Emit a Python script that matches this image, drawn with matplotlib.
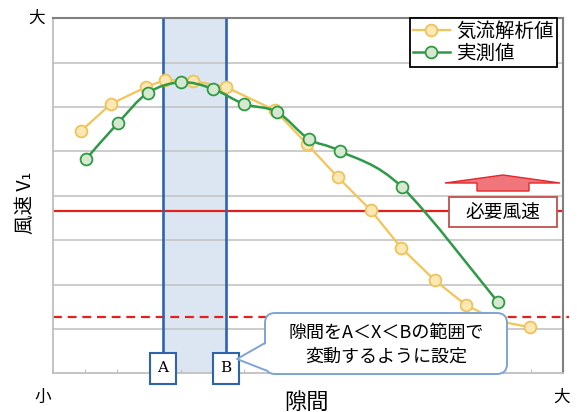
import matplotlib
matplotlib.use("Agg")
import matplotlib.pyplot as plt
import matplotlib.transforms as mtransforms
from matplotlib.patches import FancyBboxPatch, Polygon, Rectangle
from matplotlib.path import Path
from matplotlib.patches import PathPatch
from matplotlib.lines import Line2D
import numpy as np

plt.rcParams['font.family'] = ['Noto Sans CJK JP', 'DejaVu Sans']

# ---- data ----
x_sim = [0.87, 1.81, 2.91, 3.50, 4.38, 5.42, 6.95, 7.96, 8.93, 9.96, 10.93, 11.97, 12.95, 13.95, 14.95]
y_sim = [5.46, 6.07, 6.45, 6.61, 6.59, 6.45, 5.93, 5.17, 4.42, 3.68, 2.82, 2.10, 1.54, 1.18, 1.04]
x_meas = [1.03, 2.03, 2.97, 4.01, 5.01, 5.98, 7.02, 8.02, 8.99, 10.94, 13.95]
y_meas = [4.83, 5.64, 6.32, 6.56, 6.41, 6.07, 5.89, 5.28, 5.01, 4.20, 1.61]
series_labels = ['気流解析値', '実測値']
required_speed = 3.66
lower_level = 1.26
gap_A = 3.43
gap_B = 5.41
x_max = 16
y_max = 8

W, H = 577, 412
fig = plt.figure(figsize=(W / 100, H / 100), dpi=100)
ax = fig.add_axes([53.3 / W, 1 - 373.3 / H, (563 - 53.3) / W, (373.3 - 18.3) / H])
ax.set_xlim(0, x_max)
ax.set_ylim(0, y_max)

# pixel transform (origin top-left) for annotation shapes
px = mtransforms.Affine2D().scale(1, -1).translate(0, H).scale(1 / W, 1 / H) + fig.transFigure

# grid
for g in range(1, y_max):
    ax.axhline(g, color='#c4c4c4', lw=1.2, zorder=1)
ax.set_xticks(range(0, x_max + 1))
ax.set_yticks([])
ax.tick_params(axis='x', direction='in', length=3, color='#bfbfbf', labelbottom=False)
for s in ['left', 'bottom']:
    ax.spines[s].set_color('#bfbfbf')
    ax.spines[s].set_linewidth(1.3)
for s in ['top', 'right']:
    ax.spines[s].set_color('#808080')
    ax.spines[s].set_linewidth(1.5)

# shaded gap range
ax.axvspan(gap_A, gap_B, color='#dce6f2', zorder=0.5, lw=0)

# red lines
ax.axhline(required_speed, color='#e3211c', lw=1.6, zorder=2)
ax.plot([0, x_max * 1.012], [lower_level, lower_level], color='#e3211c', lw=1.6,
        ls=(0, (4, 2.6)), zorder=2, clip_on=False)

# blue vertical lines + A/B boxes
bw, bh = 26 / 31.875, 31 / 44.375
for xv, lab in [(gap_A, 'A'), (gap_B, 'B')]:
    ax.plot([xv, xv], [0.46, y_max], color='#2e64ad', lw=1.9, zorder=3, solid_capstyle='butt')
    ax.add_patch(Rectangle((xv - bw / 2, -0.24), bw, bh, facecolor='white', edgecolor='#2e64ad',
                           lw=1.5, zorder=6, clip_on=False))
    ax.text(xv, -0.24 + bh / 2, lab, ha='center', va='center', fontsize=11,
            family=['DejaVu Serif'], zorder=7, clip_on=False)

# series
ycol, ycol_face = '#f4c457', '#fbe8b4'
gcol, gcol_face = '#2e9a46', '#d6e9d0'
ax.plot(x_sim, y_sim, color=ycol, lw=1.6, zorder=4, marker='o', ms=8.5,
        mfc=ycol_face, mec='#f0c25a', mew=1.3)

# smooth line for measured values (drawing style only)
pts = np.column_stack([x_meas, y_meas])
verts = [tuple(pts[0])]
codes = [Path.MOVETO]
n = len(pts)
for i in range(n - 1):
    p0 = pts[i - 1] if i > 0 else pts[i]
    p1 = pts[i]
    p2 = pts[i + 1]
    p3 = pts[i + 2] if i + 2 < n else pts[i + 1]
    c1 = p1 + (p2 - p0) / 6
    c2 = p2 - (p3 - p1) / 6
    verts += [tuple(c1), tuple(c2), tuple(p2)]
    codes += [Path.CURVE4] * 3
ax.add_patch(PathPatch(Path(verts, codes), facecolor='none', edgecolor=gcol, lw=1.8, zorder=4.5))
ax.plot(x_meas, y_meas, ls='none', marker='o', ms=8.5, mfc=gcol_face, mec=gcol, mew=1.3, zorder=4.6)

# legend
handles = [Line2D([], [], color=ycol, lw=1.6, marker='o', ms=8.5, mfc=ycol_face, mec='#f0c25a', mew=1.3),
           Line2D([], [], color=gcol, lw=1.8, marker='o', ms=8.5, mfc=gcol_face, mec=gcol, mew=1.3)]
leg = ax.legend(handles, series_labels, loc='upper right', bbox_to_anchor=(557 / W, 1 - 18 / H),
                bbox_transform=fig.transFigure, fontsize=14, frameon=True, fancybox=False,
                edgecolor='black', framealpha=1, borderpad=0.15, labelspacing=0.05,
                handlelength=1.9, handletextpad=0.35, borderaxespad=0)
leg.get_frame().set_linewidth(1.3)
leg.set_zorder(10)

# required wind speed arrow + box
arrow = Polygon([(445, 183), (503, 175), (560, 183), (529, 183), (529, 191), (477, 191), (477, 183)],
                closed=True, facecolor='#f0767c', edgecolor='#e2262a', lw=1.0, transform=px, zorder=8)
fig.add_artist(arrow)
fig.add_artist(Rectangle((449, 197), 108, 30, facecolor='white', edgecolor='#c0504d', lw=1.3,
                         transform=px, zorder=8))
fig.text(503 / W, 1 - 212 / H, '必要風速', ha='center', va='center', fontsize=13.5, zorder=9)

# callout
fig.add_artist(FancyBboxPatch((265, 313), 242, 61, boxstyle='round,pad=0,rounding_size=10',
                              facecolor='white', edgecolor='#7ea3d4', lw=1.4, transform=px, zorder=8))
fig.add_artist(Polygon([(267.5, 343), (237, 359), (267.5, 370)], closed=True, facecolor='white',
                       edgecolor='none', transform=px, zorder=8.5))
fig.add_artist(Line2D([265, 237, 265], [343, 359, 370], color='#7ea3d4', lw=1.4, transform=px, zorder=8.6))
fig.text(386 / W, 1 - 333 / H, '隙間をA＜X＜Bの範囲で', ha='center', va='center', fontsize=13, zorder=9)
fig.text(386 / W, 1 - 357 / H, '変動するように設定', ha='center', va='center', fontsize=13, zorder=9)

# axis texts
fig.text(37 / W, 1 - 18 / H, '大', ha='center', va='center', fontsize=12)
fig.text(43 / W, 1 - 397 / H, '小', ha='center', va='center', fontsize=12)
fig.text(562 / W, 1 - 397 / H, '大', ha='center', va='center', fontsize=12)
fig.text(306 / W, 1 - 402 / H, '隙間', ha='center', va='center', fontsize=16)
fig.text(25 / W, 1 - 203 / H, '風速 V₁', ha='center', va='center', fontsize=14, rotation=90)

fig.savefig('out.png', dpi=100)
